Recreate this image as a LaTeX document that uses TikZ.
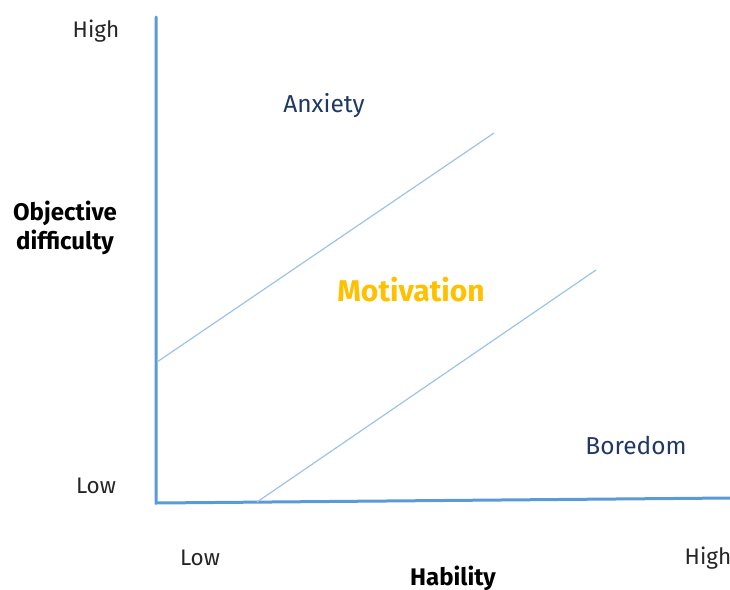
\documentclass[tikz,border=0pt]{standalone}
\usepackage{fontspec}
\setmainfont{Fira Sans}
\begin{document}
\begin{tikzpicture}[x=1pt,y=-1pt,
  axis/.style={draw=axisblue,line width=3pt,line cap=round},
  zone/.style={draw=zoneblue,line width=1.2pt},
  tick/.style={font=\fontsize{22.5}{26}\selectfont,text=ticktext,inner sep=0pt},
  title/.style={font=\fontsize{24}{29}\selectfont\bfseries,text=black,inner sep=0pt,align=center},
  region/.style={font=\fontsize{24.5}{29}\selectfont,text=navy,inner sep=0pt},
  flow/.style={font=\fontsize{30}{36}\selectfont\bfseries,text=gold,inner sep=0pt}]
\definecolor{axisblue}{HTML}{5B9BD5}
\definecolor{zoneblue}{HTML}{9DC3E6}
\definecolor{navy}{HTML}{203864}
\definecolor{gold}{HTML}{FFC000}
\definecolor{ticktext}{HTML}{262626}
\useasboundingbox (0,0) rectangle (730,589);

% axes
\coordinate (top) at (156,17);
\coordinate (origin) at (156,503);
\coordinate (right) at (730,498);
\draw[axis] (top) -- (origin) -- (right);

% boundaries of the motivation band
\coordinate (a1) at (157,362);
\coordinate (a2) at (494,133);
\coordinate (b1) at (257,502);
\coordinate (b2) at (596,270);
\draw[zone] (a1) -- (a2);
\draw[zone] (b1) -- (b2);

% axis labels
\node[tick] (yhigh) at (96,31) {High};
\node[tick] (ylow) at (96,486) {Low};
\node[tick] (xlow) at (200,558) {Low};
\node[tick] (xhigh) at (708,558) {High};
\node[title] (ytitle) at (65,228) {Objective\\difficulty};
\node[title] (xtitle) at (453,578) {Hability};

% regions
\node[region] (anx) at (324,106) {Anxiety};
\node[flow] (mot) at (411,290) {Motivation};
\node[region] (bor) at (636,445) {Boredom};
\end{tikzpicture}
\end{document}
